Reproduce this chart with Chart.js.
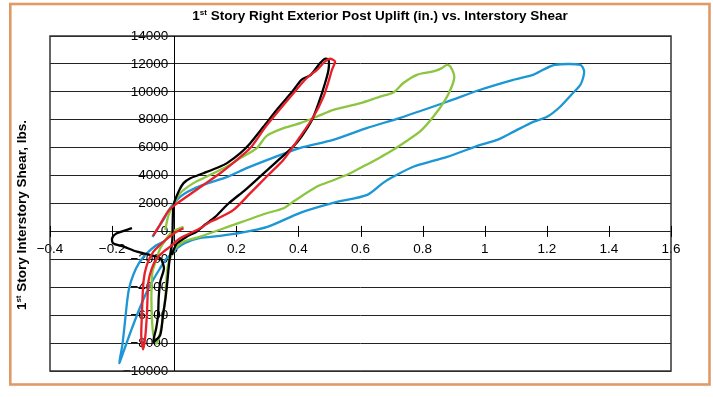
<!DOCTYPE html>
<html><head><meta charset="utf-8">
<script src="https://cdn.jsdelivr.net/npm/chart.js@4.4.1/dist/chart.umd.min.js"></script>
<style>html,body{margin:0;padding:0;background:#fff;}#wrap{width:713px;height:397px;position:relative;}</style>
</head><body><div id="wrap"><canvas id="c" width="713" height="397"></canvas></div>
<script>
// ---- tick labels ----
const xTicks = [-0.4,-0.2,0,0.2,0.4,0.6,0.8,1,1.2,1.4,1.6];
const xTickLabels = ['\u22120.4','\u22120.2','0','0.2','0.4','0.6','0.8','1','1.2','1.4','1.6'];
const yTicks = [-10000,-8000,-6000,-4000,-2000,0,2000,4000,6000,8000,10000,12000,14000];
const yTickLabels = ['\u221210000','\u22128000','\u22126000','\u22124000','\u22122000','0','2000','4000','6000','8000','10000','12000','14000'];

// ---- series: uplift (in.) and shear (lbs.) ----
const blueUplift = [-0.07,-0.052,-0.035,-0.019,-0.003,0.019,0.042,0.093,0.171,0.235,0.309,0.406,0.512,0.622,0.728,0.879,0.986,1.092,1.156,1.188,1.227,1.308,1.320,1.317,1.308,1.285,1.243,1.201,1.156,1.092,1.040,0.986,0.879,0.770,0.705,0.673,0.622,0.512,0.406,0.300,0.213,0.148,0.084,0.035,0.006,-0.013,-0.026,-0.045,-0.068,-0.093,-0.116,-0.138,-0.158,-0.177,-0.167,-0.158,-0.151,-0.145,-0.132,-0.113,-0.090,-0.061,-0.029];
const blueShear = [-400,250,820,1470,1970,2470,2830,3330,3910,4550,5200,5990,6560,7420,8140,9290,10150,10860,11220,11580,11940,11940,11510,11010,10500,9930,8930,8210,7850,7130,6560,6200,5340,4630,3910,3480,2620,2040,1330,320,-110,-320,-470,-820,-1250,-1690,-1970,-2620,-3480,-4550,-5770,-7060,-8280,-9430,-8140,-6350,-4910,-4050,-3120,-2260,-1610,-1040,-680];

const greenUplift = [-0.029,-0.019,-0.007,0.019,0.062,0.105,0.17,0.213,0.266,0.298,0.352,0.406,0.46,0.513,0.6,0.663,0.706,0.738,0.782,0.835,0.862,0.878,0.889,0.902,0.894,0.873,0.835,0.792,0.738,0.696,0.663,0.621,0.567,0.51,0.46,0.384,0.352,0.298,0.191,0.084,0.03,0.003,-0.013,-0.02,-0.025,-0.028,-0.034,-0.042,-0.056,-0.068,-0.073,-0.073,-0.07,-0.06,-0.045,-0.024,-0.007,0.03];
const greenShear = [110,1110,1735,2740,3460,3930,4650,5250,5970,6850,7400,7760,8230,8710,9190,9660,9950,10630,11220,11460,11700,11940,11820,11100,10380,9430,8230,7160,6320,5720,5300,4800,4170,3650,3210,2140,1660,1300,470,-370,-730,-1200,-1920,-2400,-3360,-4550,-5750,-6940,-8020,-7300,-5500,-4000,-2900,-2170,-1210,-490,-15,330];

const blackUplift = [-0.136,-0.185,-0.2,-0.197,-0.163,-0.12,-0.077,-0.045,-0.033,-0.045,-0.05,-0.052,-0.058,-0.067,-0.045,-0.036,-0.028,-0.022,-0.018,-0.013,-0.006,-0.005,-0.002,0.014,0.03,0.052,0.094,0.148,0.17,0.213,0.245,0.288,0.33,0.38,0.41,0.44,0.47,0.486,0.497,0.497,0.486,0.465,0.444,0.41,0.38,0.33,0.28,0.23,0.175,0.13,0.1,0.073,0.041,0.009,-0.002,-0.007];
const blackShear = [230,-130,-490,-850,-1090,-1450,-1690,-1920,-2640,-3600,-4790,-5990,-6940,-7900,-7420,-5990,-4790,-3600,-2640,-1690,-610,470,1900,2850,3460,3810,4170,4650,4890,5610,6320,7510,8700,10000,10860,11220,12060,12370,12300,11580,10630,9190,8000,6800,6000,5000,4000,3000,2000,1000,500,0,-370,-850,-1330,-1690];

const redUplift = [-0.068,-0.052,-0.039,-0.023,-0.007,0.041,0.094,0.148,0.202,0.245,0.298,0.384,0.427,0.46,0.486,0.502,0.518,0.508,0.497,0.481,0.449,0.406,0.352,0.298,0.245,0.191,0.138,0.116,0.084,0.019,-0.013,-0.034,-0.056,-0.072,-0.083,-0.088,-0.093,-0.1,-0.106,-0.104,-0.099,-0.088,-0.067,-0.034,0.0,0.03];
const redShear = [-320,250,750,1330,1740,2500,3330,4170,5130,5970,7600,9900,10990,11580,12180,12370,12180,11580,10740,9670,8230,6800,5130,3930,2740,1540,900,700,230,-490,-1090,-1450,-1920,-2640,-3600,-5990,-7500,-8450,-7500,-5990,-3600,-2400,-1450,-730,-130,230];

function pts(xs, ys){ return xs.map((x,i)=>({x:x, y:ys[i]})); }

const FONT = '"Liberation Sans", Arial, sans-serif';
const framePlugin = {
  id:'frame',
  beforeDraw(chart){
    const ctx = chart.ctx;
    ctx.save();
    ctx.fillStyle='#fff'; ctx.fillRect(0,0,chart.width,chart.height);
    ctx.strokeStyle='#DF9A68'; ctx.lineWidth=2.6;
    ctx.strokeRect(10.3,4,699.2,380.5);
    ctx.restore();
  },
  beforeDatasetsDraw(chart){
    const ctx = chart.ctx, a = chart.chartArea;
    const xs = chart.scales.x, ys = chart.scales.y;
    ctx.save();
    ctx.strokeStyle='#333'; ctx.lineWidth=1.5;
    ctx.strokeRect(a.left, a.top, a.right-a.left, a.bottom-a.top);
    const y0 = ys.getPixelForValue(0);
    const x0 = Math.round(xs.getPixelForValue(0))+0.5;
    ctx.strokeStyle='#000'; ctx.lineWidth=1;
    ctx.beginPath(); ctx.moveTo(x0,a.top); ctx.lineTo(x0,a.bottom); ctx.stroke();
    xs.ticks.forEach(t=>{
      const px = Math.round(xs.getPixelForValue(t.value))+0.5;
      ctx.beginPath(); ctx.moveTo(px,y0-5.5); ctx.lineTo(px,y0+5.5); ctx.stroke();
    });
    ctx.restore();
  },
  afterDraw(chart){
    const ctx = chart.ctx;
    function drawSup(pre, sup, post, size, cx, cy){
      ctx.font = 'bold '+size+'px '+FONT;
      const w1 = ctx.measureText(pre).width, w3 = ctx.measureText(post).width;
      const ss = Math.round(size*0.62);
      ctx.font = 'bold '+ss+'px '+FONT;
      const w2 = ctx.measureText(sup).width;
      let x = cx - (w1+w2+w3)/2;
      ctx.textBaseline='alphabetic'; ctx.textAlign='left'; ctx.fillStyle='#000';
      const base = cy + size*0.36;
      ctx.font = 'bold '+size+'px '+FONT;
      ctx.fillText(pre, x, base); x += w1;
      ctx.font = 'bold '+ss+'px '+FONT;
      ctx.fillText(sup, x, base - size*0.38); x += w2;
      ctx.font = 'bold '+size+'px '+FONT;
      ctx.fillText(post, x, base);
    }
    ctx.save();
    drawSup('1','st',' Story Right Exterior Post Uplift (in.) vs. Interstory Shear', 13.5, 380, 15);
    ctx.restore();
    ctx.save();
    ctx.translate(21, 215);
    ctx.rotate(-Math.PI/2);
    drawSup('1','st',' Story Interstory Shear, lbs.', 13.5, 0, 0);
    ctx.restore();
  }
};

const tickFont = {family:FONT, size:13.5};

new Chart(document.getElementById('c'), {
  type:'scatter',
  data:{ datasets:[
    {label:'red', data:pts(redUplift, redShear), borderColor:'#E8202A'},
    {label:'black', data:pts(blackUplift, blackShear), borderColor:'#000000'},
    {label:'green', data:pts(greenUplift, greenShear), borderColor:'#8CC540'},
    {label:'blue', data:pts(blueUplift, blueShear), borderColor:'#1C96D4'}
  ].map(d=>Object.assign(d,{showLine:true, pointRadius:0, borderWidth:2.3, tension:0.25, fill:false}))},
  options:{
    responsive:false, animation:false, devicePixelRatio:1,
    layout:{padding:{left:50, right:42, top:36, bottom:26}},
    plugins:{legend:{display:false}, tooltip:{enabled:false}, title:{display:false}},
    scales:{
      x:{type:'linear', min:-0.4, max:1.6, position:{y:0},
        afterBuildTicks(s){ s.ticks = xTicks.map(v=>({value:v})); },
        ticks:{callback:(v,i)=>xTickLabels[i], font:tickFont, color:'#000', padding:10, maxRotation:0, autoSkip:false},
        grid:{display:false, drawTicks:false}, border:{display:false}},
      y:{type:'linear', min:-10000, max:14000, position:{x:-0.019},
        afterBuildTicks(s){ s.ticks = yTicks.map(v=>({value:v})); },
        ticks:{callback:(v,i)=>yTickLabels[i], font:tickFont, color:'#000', padding:5, autoSkip:false},
        grid:{color:'#222', lineWidth:1, drawTicks:false}, border:{display:false}}
    }
  },
  plugins:[framePlugin]
});
</script></body></html>
